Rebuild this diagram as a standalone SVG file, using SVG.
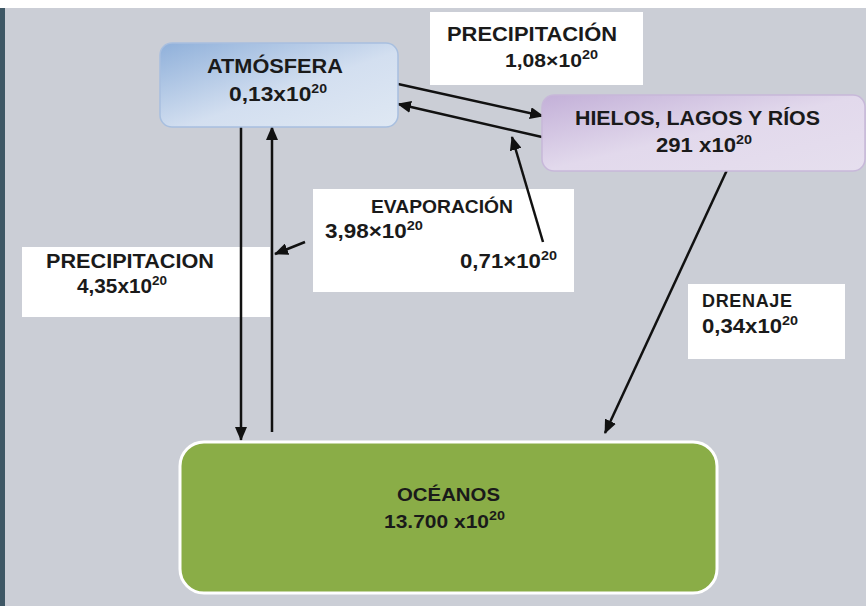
<svg xmlns="http://www.w3.org/2000/svg" width="866" height="606" viewBox="0 0 866 606">
<defs>
<linearGradient id="gAtm" x1="0" y1="0" x2="1" y2="1">
<stop offset="0" stop-color="#8fb0da"/>
<stop offset="0.55" stop-color="#d3dff0"/>
<stop offset="1" stop-color="#dfe8f3"/>
</linearGradient>
<linearGradient id="gHie" x1="0" y1="0" x2="1" y2="1">
<stop offset="0" stop-color="#c3b0d8"/>
<stop offset="0.5" stop-color="#e2d9ec"/>
<stop offset="1" stop-color="#e6dfee"/>
</linearGradient>
<marker id="ah" markerUnits="userSpaceOnUse" markerWidth="14" markerHeight="12" viewBox="0 0 14 12" refX="13" refY="6" orient="auto">
<path d="M0,0 L14,6 L0,12 z" fill="#111"/>
</marker>
</defs>
<style>
.t{font-family:"Liberation Sans",Arial,sans-serif;font-weight:bold;fill:#1a1a1a;}
.lbl{fill:#ffffff;}
.ln{stroke:#111;stroke-width:2.5;fill:none;}
.sup{font-size:13px;}
</style>
<rect x="0" y="0" width="866" height="606" fill="#cbced6"/>
<rect x="0" y="0" width="866" height="8" fill="#ffffff"/>
<rect x="0" y="8" width="5" height="598" fill="#3e5765"/>

<g id="label-precip-top">
<rect class="lbl" x="430" y="12" width="213" height="73"/>
<text class="t" x="447" y="41" font-size="21" textLength="170" lengthAdjust="spacingAndGlyphs">PRECIPITACIÓN</text>
<text class="t" x="505" y="67" font-size="19" textLength="93" lengthAdjust="spacingAndGlyphs">1,08×10<tspan class="sup" dy="-8">20</tspan></text>
</g>
<g id="label-precip-left">
<rect class="lbl" x="22" y="247" width="248" height="70"/>
<text class="t" x="46" y="268" font-size="20" textLength="168" lengthAdjust="spacingAndGlyphs">PRECIPITACION</text>
<text class="t" x="77" y="293" font-size="20" textLength="90" lengthAdjust="spacingAndGlyphs">4,35x10<tspan class="sup" dy="-8">20</tspan></text>
</g>
<g id="label-evap">
<rect class="lbl" x="313" y="189" width="261" height="103"/>
<text class="t" x="371" y="213" font-size="19" textLength="142" lengthAdjust="spacingAndGlyphs">EVAPORACIÓN</text>
<text class="t" x="325" y="238" font-size="20" textLength="98" lengthAdjust="spacingAndGlyphs">3,98×10<tspan class="sup" dy="-8">20</tspan></text>
<text class="t" x="460" y="268" font-size="20" textLength="97" lengthAdjust="spacingAndGlyphs">0,71×10<tspan class="sup" dy="-8">20</tspan></text>
</g>
<g id="label-drenaje">
<rect class="lbl" x="688" y="284" width="157" height="75"/>
<text class="t" x="702" y="307" font-size="18" textLength="90" lengthAdjust="spacing">DRENAJE</text>
<text class="t" x="702" y="333" font-size="20" textLength="96" lengthAdjust="spacingAndGlyphs">0,34x10<tspan class="sup" dy="-8">20</tspan></text>
</g>

<g id="connectors">
<line class="ln" x1="398" y1="84" x2="543" y2="116" marker-end="url(#ah)"/>
<line class="ln" x1="542" y1="137" x2="398" y2="104" marker-end="url(#ah)"/>
<line class="ln" x1="543" y1="242" x2="512" y2="137" marker-end="url(#ah)"/>
<line class="ln" x1="241" y1="127" x2="241" y2="440" marker-end="url(#ah)"/>
<line class="ln" x1="272" y1="432" x2="272" y2="127" marker-end="url(#ah)"/>
<line class="ln" x1="305" y1="242" x2="275" y2="254" marker-end="url(#ah)"/>
<line class="ln" x1="727" y1="170" x2="605" y2="433" marker-end="url(#ah)"/>
</g>

<g id="node-atmosfera">
<rect x="160" y="43" width="238" height="84" rx="12" fill="url(#gAtm)" stroke="#a8bfdf" stroke-width="1.5"/>
<text class="t" x="207" y="73" font-size="20" textLength="136" lengthAdjust="spacingAndGlyphs">ATMÓSFERA</text>
<text class="t" x="229" y="101" font-size="21" textLength="98" lengthAdjust="spacingAndGlyphs">0,13x10<tspan class="sup" dy="-8">20</tspan></text>
</g>
<g id="node-hielos">
<rect x="542" y="95" width="323" height="76" rx="12" fill="url(#gHie)" stroke="#c7b8d9" stroke-width="1.5"/>
<text class="t" x="575" y="125" font-size="20" textLength="245" lengthAdjust="spacingAndGlyphs">HIELOS, LAGOS Y RÍOS</text>
<text class="t" x="656" y="152" font-size="20" textLength="96" lengthAdjust="spacingAndGlyphs">291  x10<tspan class="sup" dy="-8">20</tspan></text>
</g>
<g id="node-oceanos">
<rect x="180" y="442" width="537" height="151" rx="24" fill="#8aad47" stroke="#ffffff" stroke-width="3"/>
<text class="t" x="397" y="501" font-size="19" textLength="103" lengthAdjust="spacingAndGlyphs">OCÉANOS</text>
<text class="t" x="384" y="528" font-size="19" textLength="121" lengthAdjust="spacingAndGlyphs">13.700 x10<tspan class="sup" dy="-8">20</tspan></text>
</g>
</svg>
